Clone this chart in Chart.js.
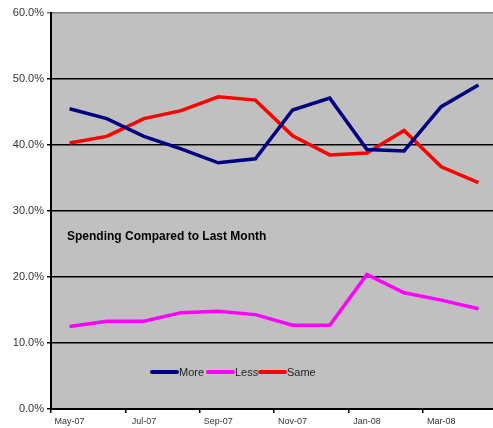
<!DOCTYPE html>
<html>
<head>
<meta charset="utf-8">
<script src="https://cdn.jsdelivr.net/npm/chart.js@4/dist/chart.umd.min.js"></script>
<style>
  html, body { margin: 0; background: #fff; overflow: hidden; }
  #chart { display: block; }
</style>
</head>
<body>
<!-- plot runs a few px past the window's right edge, as in the source image -->
<canvas id="chart" width="497" height="428"></canvas>
<script>
// monthly survey, percent of respondents
const months = ["May-07", "Jun-07", "Jul-07", "Aug-07", "Sep-07", "Oct-07", "Nov-07", "Dec-07", "Jan-08", "Feb-08", "Mar-08", "Apr-08"];
const moreValues = [45.5, 44.0, 41.3, 39.4, 37.3, 37.9, 45.3, 47.1, 39.3, 39.1, 45.8, 49.1];
const lessValues = [12.5, 13.3, 13.3, 14.6, 14.8, 14.3, 12.7, 12.7, 20.4, 17.6, 16.5, 15.2];
const sameValues = [40.3, 41.3, 44.0, 45.2, 47.3, 46.8, 41.4, 38.5, 38.8, 42.2, 36.7, 34.3];
const seriesNames = ["More", "Less", "Same"];
const seriesColors = ["#000080", "#ff00ff", "#ff0000"];
const yTicks = [0, 10, 20, 30, 40, 50, 60];
const chartTitle = "Spending Compared to Last Month";

const FONT = "'Liberation Sans', Arial, sans-serif";

const plotBackground = {
    id: "plotBackground",
    beforeDraw(chart) {
        const { ctx, chartArea: a } = chart;
        ctx.save();
        ctx.fillStyle = "#c0c0c0";
        ctx.fillRect(a.left, a.top, a.right - a.left, a.bottom - a.top);
        ctx.restore();
    }
};

// title and legend sit inside the plot area
const insideLabels = {
    id: "insideLabels",
    afterDraw(chart) {
        const ctx = chart.ctx;
        ctx.save();
        ctx.fillStyle = "#000";
        ctx.font = "bold 12px " + FONT;
        ctx.textBaseline = "middle";
        ctx.textAlign = "left";
        ctx.fillText(chartTitle, 67, 237);

        const legendY = 372;
        const starts = [152, 208, 260];
        ctx.font = "11px " + FONT;
        seriesNames.forEach((name, i) => {
            ctx.strokeStyle = seriesColors[i];
            ctx.lineWidth = 4;
            ctx.lineCap = "round";
            ctx.beginPath();
            ctx.moveTo(starts[i], legendY);
            ctx.lineTo(starts[i] + 25, legendY);
            ctx.stroke();
            ctx.fillStyle = "#222";
            ctx.fillText(name, starts[i] + 27, legendY + 1);
        });
        ctx.restore();
    }
};

const data = [moreValues, lessValues, sameValues];

new Chart(document.getElementById("chart"), {
    type: "line",
    data: {
        labels: months,
        datasets: seriesNames.map((name, i) => ({
            label: name,
            data: data[i],
            borderColor: seriesColors[i],
            borderWidth: 3.5,
            pointRadius: 0,
            tension: 0,
            fill: false
        }))
    },
    options: {
        responsive: false,
        animation: false,
        layout: { padding: { top: 13, right: 0, left: 0, bottom: 0 } },
        plugins: {
            legend: { display: false },
            tooltip: { enabled: false }
        },
        scales: {
            x: {
                offset: true,
                border: { color: "#000", width: 2 },
                grid: {
                    offset: true,
                    drawOnChartArea: false,
                    drawTicks: true,
                    tickLength: 4,
                    lineWidth: 1.5,
                    color: c => (c.index % 2 === 0 ? "#000" : "rgba(0,0,0,0)")
                },
                ticks: {
                    autoSkip: false,
                    maxRotation: 0,
                    padding: 3,
                    color: "#333",
                    font: { family: FONT, size: 9 },
                    callback: (v, i) => (i % 2 === 0 ? months[i] : "")
                },
                afterFit: s => { s.height = 19; }
            },
            y: {
                min: yTicks[0],
                max: yTicks[yTicks.length - 1],
                border: { color: "#000", width: 2 },
                grid: {
                    color: c => (c.tick && c.tick.value === 60 ? "#808080" : "#000"),
                    lineWidth: 1.5,
                    tickLength: 4
                },
                afterBuildTicks: s => { s.ticks = yTicks.map(v => ({ value: v })); },
                ticks: {
                    padding: 3,
                    color: "#333",
                    font: { family: FONT, size: 11 },
                    callback: v => v.toFixed(1) + "%"
                },
                afterFit: s => { s.width = 51; }
            }
        }
    },
    plugins: [plotBackground, insideLabels]
});
</script>
</body>
</html>
